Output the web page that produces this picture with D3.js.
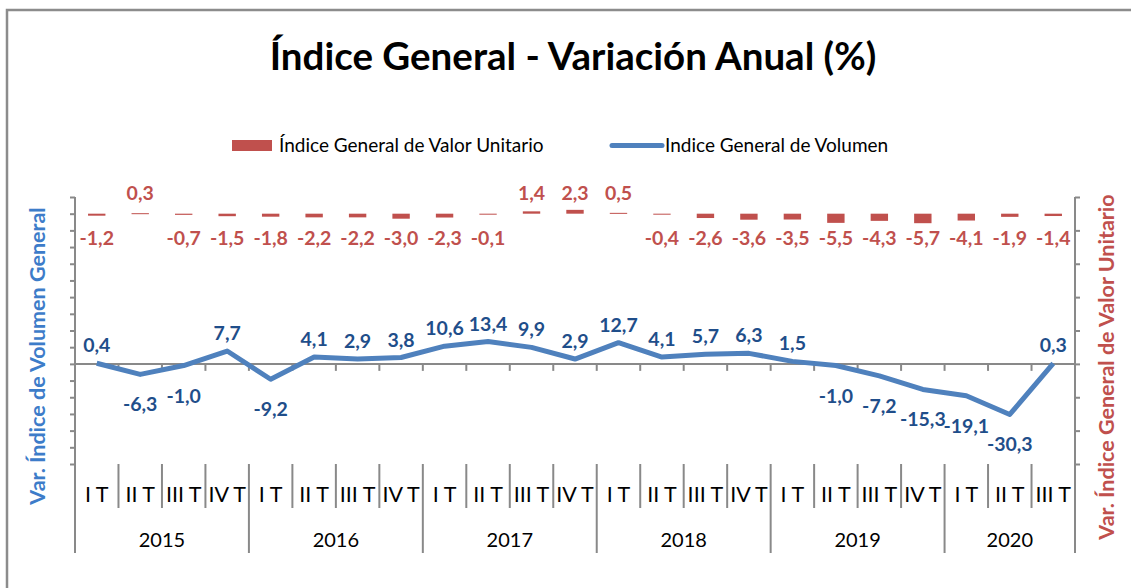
<!DOCTYPE html>
<html>
<head>
<meta charset="utf-8">
<script src="https://cdnjs.cloudflare.com/ajax/libs/d3/7.8.5/d3.min.js"></script>
<style>
  body { margin: 0; background: #fff; }
  svg { font-family: Lato, "Open Sans", sans-serif; }
</style>
</head>
<body>
<svg id="chart" width="1131" height="588"></svg>
<script>
// periodos (año-trimestre)
var periodos = [
	"2015-I T", "2015-II T", "2015-III T", "2015-IV T",
	"2016-I T", "2016-II T", "2016-III T", "2016-IV T",
	"2017-I T", "2017-II T", "2017-III T", "2017-IV T",
	"2018-I T", "2018-II T", "2018-III T", "2018-IV T",
	"2019-I T", "2019-II T", "2019-III T", "2019-IV T",
	"2020-I T", "2020-II T", "2020-III T"
];
var anios = ["2015", "2016", "2017", "2018", "2019", "2020"];

// Índice General de Valor Unitario (barras, eje derecho)
var valorUnitario = [-1.2, 0.3, -0.7, -1.5, -1.8, -2.2, -2.2, -3.0, -2.3, -0.1, 1.4, 2.3,
	0.5, -0.4, -2.6, -3.6, -3.5, -5.5, -4.3, -5.7, -4.1, -1.9, -1.4];

// Indice General de Volumen (línea, eje izquierdo)
var volumen = [0.4, -6.3, -1.0, 7.7, -9.2, 4.1, 2.9, 3.8, 10.6, 13.4, 9.9, 2.9,
	12.7, 4.1, 5.7, 6.3, 1.5, -1.0, -7.2, -15.3, -19.1, -30.3, 0.3];

var svg = d3.select("#chart");
var plotLeft = 75, plotRight = 1075, plotTop = 197, plotBottom = 464;
var axisColor = "#898989";
var barColor = "#C0504D";
var lineColor = "#4F81BD";
var labelBlue = "#1F4E8A";

var x = d3.scaleBand()
	.domain(periodos)
	.range([plotLeft, plotRight])
	.padding(0);

var yL = d3.scaleLinear().domain([-60, 100]).range([plotBottom, plotTop]);
var yR = d3.scaleLinear().domain([-150, 10]).range([plotBottom, plotTop]);

var fmt = function (v) { return d3.format(".1f")(v).replace(".", ",").replace("−", "-"); };

// marco
svg.append("rect")
	.attr("x", 7).attr("y", 10)
	.attr("width", 1140).attr("height", 600)
	.attr("fill", "none")
	.attr("stroke", "#8c8c8c")
	.attr("stroke-width", 2.5);

// título
svg.append("text")
	.attr("x", 573).attr("y", 70)
	.attr("text-anchor", "middle")
	.attr("font-size", 38.5)
	.attr("font-weight", "bold")
	.text("Índice General - Variación Anual (%)");

// leyenda
var legend = svg.append("g").attr("font-size", 19);
legend.append("rect")
	.attr("x", 232).attr("y", 140)
	.attr("width", 40).attr("height", 11)
	.attr("fill", barColor);
legend.append("text")
	.attr("x", 279).attr("y", 152)
	.text("Índice General de Valor Unitario");
legend.append("line")
	.attr("x1", 612).attr("x2", 662)
	.attr("y1", 145.5).attr("y2", 145.5)
	.attr("stroke", lineColor)
	.attr("stroke-width", 5)
	.attr("stroke-linecap", "round");
legend.append("text")
	.attr("x", 665).attr("y", 152)
	.text("Indice General de Volumen");

// eje izquierdo
svg.append("g")
	.attr("transform", "translate(" + plotLeft + ",0)")
	.call(d3.axisLeft(yL).tickValues(d3.range(-60, 101, 10)).tickSize(5).tickFormat(""))
	.call(function (g) {
		g.select(".domain").remove();
		g.selectAll("line").attr("stroke", axisColor).attr("stroke-width", 2);
	});

// eje derecho
svg.append("g")
	.attr("transform", "translate(" + plotRight + ",0)")
	.call(d3.axisRight(yR).tickValues(d3.range(-150, 11, 20)).tickSize(5).tickFormat(""))
	.call(function (g) {
		g.select(".domain").remove();
		g.selectAll("line").attr("stroke", axisColor).attr("stroke-width", 2);
	});

// líneas verticales de los ejes, hasta las etiquetas de año
[plotLeft, plotRight].forEach(function (px) {
	svg.append("line")
		.attr("x1", px).attr("x2", px)
		.attr("y1", plotTop).attr("y2", 553)
		.attr("stroke", axisColor).attr("stroke-width", 2);
});

// eje de categorías en cero
var zeroY = yL(0);
svg.append("line")
	.attr("x1", plotLeft).attr("x2", plotRight)
	.attr("y1", zeroY).attr("y2", zeroY)
	.attr("stroke", axisColor).attr("stroke-width", 2);
svg.append("g").selectAll("line")
	.data(periodos.slice(1))
	.enter().append("line")
	.attr("x1", function (d) { return x(d); })
	.attr("x2", function (d) { return x(d); })
	.attr("y1", zeroY).attr("y2", zeroY + 7)
	.attr("stroke", axisColor).attr("stroke-width", 2);

// separadores de trimestres y años
svg.append("g").selectAll("line")
	.data(periodos.slice(1))
	.enter().append("line")
	.attr("x1", function (d) { return x(d); })
	.attr("x2", function (d) { return x(d); })
	.attr("y1", plotBottom)
	.attr("y2", function (d) { return d.split("-")[1] === "I T" ? 553 : 508; })
	.attr("stroke", axisColor).attr("stroke-width", 2);

// etiquetas de trimestre
svg.append("g").selectAll("text")
	.data(periodos)
	.enter().append("text")
	.attr("x", function (d) { return x(d) + x.bandwidth() / 2; })
	.attr("y", 502)
	.attr("text-anchor", "middle")
	.attr("font-size", 21.5)
	.text(function (d) { return d.split("-")[1]; });

// etiquetas de año
svg.append("g").selectAll("text")
	.data(anios)
	.enter().append("text")
	.attr("x", function (a) {
		var ps = periodos.filter(function (p) { return p.split("-")[0] === a; });
		return (x(ps[0]) + x(ps[ps.length - 1]) + x.bandwidth()) / 2;
	})
	.attr("y", 547)
	.attr("text-anchor", "middle")
	.attr("font-size", 20)
	.text(function (a) { return a; });

// barras
var barW = x.bandwidth() * 0.4;
svg.append("g").selectAll("rect")
	.data(valorUnitario)
	.enter().append("rect")
	.attr("x", function (d, i) { return x(periodos[i]) + (x.bandwidth() - barW) / 2; })
	.attr("y", function (d) { return Math.min(yR(d), yR(0)); })
	.attr("width", barW)
	.attr("height", function (d) { return Math.max(1, Math.abs(yR(d) - yR(0))); })
	.attr("fill", barColor);

svg.append("g").selectAll("text")
	.data(valorUnitario)
	.enter().append("text")
	.attr("x", function (d, i) { return x(periodos[i]) + x.bandwidth() / 2; })
	.attr("y", function (d) { return d >= 0 ? yR(0) - 14 : yR(0) + 31; })
	.attr("text-anchor", "middle")
	.attr("font-size", 19.5)
	.attr("font-weight", "bold")
	.attr("fill", barColor)
	.text(fmt);

// línea de volumen
var line = d3.line()
	.x(function (d, i) { return x(periodos[i]) + x.bandwidth() / 2; })
	.y(function (d) { return yL(d); });

svg.append("path")
	.datum(volumen)
	.attr("d", line)
	.attr("fill", "none")
	.attr("stroke", lineColor)
	.attr("stroke-width", 5)
	.attr("stroke-linejoin", "round");

svg.append("g").selectAll("text")
	.data(volumen)
	.enter().append("text")
	.attr("x", function (d, i) { return x(periodos[i]) + x.bandwidth() / 2; })
	.attr("y", function (d) { return d >= 0 ? yL(d) - 11 : yL(d) + 37; })
	.attr("text-anchor", "middle")
	.attr("font-size", 19.5)
	.attr("font-weight", "bold")
	.attr("fill", labelBlue)
	.text(fmt);

// títulos de ejes
svg.append("text")
	.attr("transform", "translate(45,356) rotate(-90)")
	.attr("text-anchor", "middle")
	.attr("font-size", 21.5)
	.attr("font-weight", "bold")
	.attr("fill", "#3D7CC9")
	.text("Var. Índice de Volumen General");

svg.append("text")
	.attr("transform", "translate(1114,367) rotate(-90)")
	.attr("text-anchor", "middle")
	.attr("font-size", 21.5)
	.attr("font-weight", "bold")
	.attr("fill", barColor)
	.text("Var. Índice General de Valor Unitario");
</script>
</body>
</html>
